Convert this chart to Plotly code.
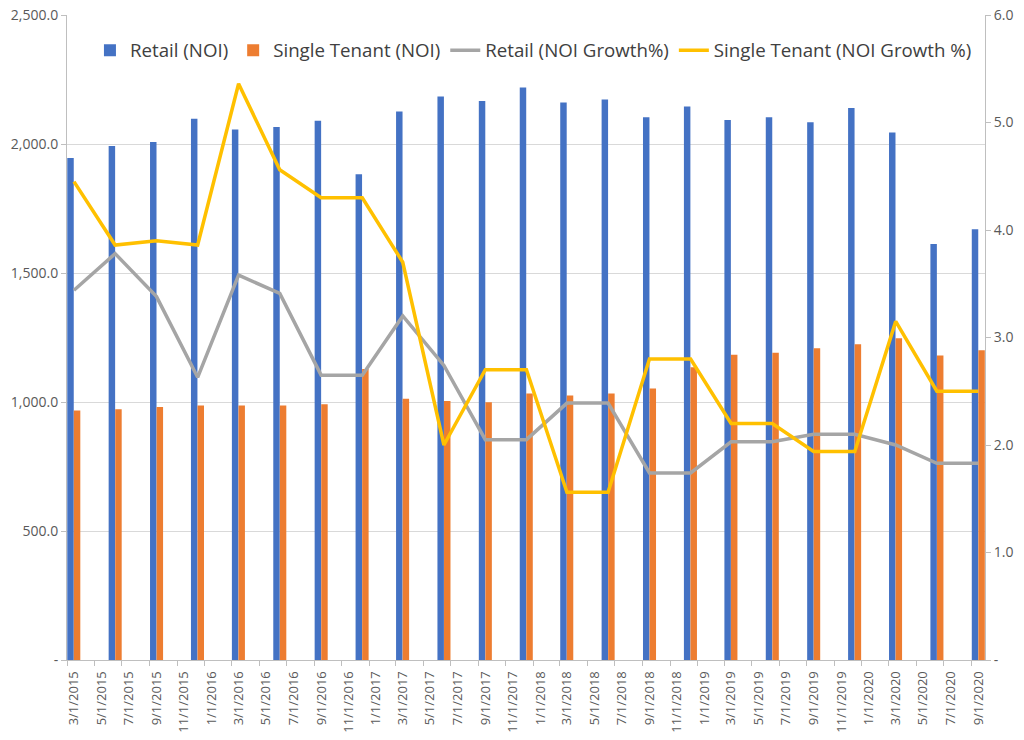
import pandas as pd
import plotly.graph_objects as go

# quarterly data points
dates = [
    "2015-03-01", "2015-06-01", "2015-09-01", "2015-12-01",
    "2016-03-01", "2016-06-01", "2016-09-01", "2016-12-01",
    "2017-03-01", "2017-06-01", "2017-09-01", "2017-12-01",
    "2018-03-01", "2018-06-01", "2018-09-01", "2018-12-01",
    "2019-03-01", "2019-06-01", "2019-09-01", "2019-12-01",
    "2020-03-01", "2020-06-01", "2020-09-01",
]

retail_noi = [
    1946, 1992, 2008, 2098, 2056, 2066, 2090, 1883,
    2126, 2184, 2167, 2219, 2161, 2172, 2104, 2145,
    2093, 2104, 2084, 2140, 2045, 1612, 1670,
]
single_tenant_noi = [
    967, 972, 981, 986, 986, 986, 991, 1128,
    1013, 1004, 999, 1033, 1025, 1033, 1052, 1135,
    1183, 1191, 1208, 1224, 1247, 1180, 1201,
]
retail_growth = [
    3.44, 3.78, 3.38, 2.63, 3.58, 3.41, 2.65, 2.65,
    3.20, 2.74, 2.05, 2.05, 2.39, 2.39, 1.74, 1.74,
    2.03, 2.03, 2.10, 2.10, 2.00, 1.83, 1.83,
]
single_tenant_growth = [
    4.45, 3.86, 3.90, 3.86, 5.36, 4.56, 4.30, 4.30,
    3.70, 2.00, 2.70, 2.70, 1.56, 1.56, 2.80, 2.80,
    2.20, 2.20, 1.94, 1.94, 3.15, 2.50, 2.50,
]

# x tick labels (every two months)
tick_labels = [
    "3/1/2015", "5/1/2015", "7/1/2015", "9/1/2015", "11/1/2015",
    "1/1/2016", "3/1/2016", "5/1/2016", "7/1/2016", "9/1/2016", "11/1/2016",
    "1/1/2017", "3/1/2017", "5/1/2017", "7/1/2017", "9/1/2017", "11/1/2017",
    "1/1/2018", "3/1/2018", "5/1/2018", "7/1/2018", "9/1/2018", "11/1/2018",
    "1/1/2019", "3/1/2019", "5/1/2019", "7/1/2019", "9/1/2019", "11/1/2019",
    "1/1/2020", "3/1/2020", "5/1/2020", "7/1/2020", "9/1/2020",
]

left_ticks = [0, 500, 1000, 1500, 2000, 2500]
left_labels = ["-", "500.0", "1,000.0", "1,500.0", "2,000.0", "2,500.0"]
right_ticks = [0, 1, 2, 3, 4, 5, 6]
right_labels = ["-", "1.0", "2.0", "3.0", "4.0", "5.0", "6.0"]

DAY = 86400000
font_name = "Open Sans"
tick_color = "#595959"
axis_color = "#BFBFBF"

x_dates = pd.to_datetime(dates)
tick_dates = pd.to_datetime(tick_labels, format="%m/%d/%Y")

fig = go.Figure()

fig.add_trace(go.Bar(
    x=x_dates, y=retail_noi, name="Retail (NOI)",
    marker=dict(color="#4472C4", line=dict(width=0)),
    offset=0.6 * DAY, width=14.4 * DAY,
))
fig.add_trace(go.Bar(
    x=x_dates, y=single_tenant_noi, name="Single Tenant (NOI)",
    marker=dict(color="#ED7D31", line=dict(width=0)),
    offset=15.2 * DAY, width=14.4 * DAY,
))
fig.add_trace(go.Scatter(
    x=x_dates, y=retail_growth, name="Retail (NOI Growth%)",
    mode="lines", line=dict(color="#A5A5A5", width=3.5),
    xperiod="M1", xperiodalignment="middle", yaxis="y2",
))
fig.add_trace(go.Scatter(
    x=x_dates, y=single_tenant_growth, name="Single Tenant (NOI Growth %)",
    mode="lines", line=dict(color="#FFC000", width=3.5),
    xperiod="M1", xperiodalignment="middle", yaxis="y2",
))

fig.update_layout(
    width=1024, height=740,
    margin=dict(l=67, r=39, t=15, b=80),
    paper_bgcolor="white", plot_bgcolor="white",
    font=dict(family=font_name, size=13, color=tick_color),
    barmode="overlay",
    showlegend=True,
    legend=dict(
        orientation="h", x=0.025, y=0.945, xanchor="left", yanchor="middle",
        bgcolor="rgba(0,0,0,0)", font=dict(size=18.7, color="#404040"),
        itemwidth=30, tracegroupgap=0,
    ),
    xaxis=dict(
        type="date", automargin=False,
        range=["2015-03-01", "2020-10-01"],
        tickmode="array", tickvals=tick_dates, ticktext=tick_labels,
        tickangle=-90, ticklabelshift=7,
        ticks="outside", ticklen=5, tickcolor=axis_color,
        showline=True, linecolor=axis_color, linewidth=1,
        showgrid=False, zeroline=False,
    ),
    yaxis=dict(
        range=[0, 2500], automargin=False,
        tickmode="array", tickvals=left_ticks, ticktext=left_labels,
        tickfont=dict(size=14),
        ticks="outside", ticklen=5, tickcolor=axis_color,
        showline=True, linecolor=axis_color, linewidth=1,
        showgrid=True, gridcolor="#D9D9D9", gridwidth=1,
        zeroline=False,
    ),
    yaxis2=dict(
        range=[0, 6], overlaying="y", side="right", automargin=False,
        tickmode="array", tickvals=right_ticks, ticktext=right_labels,
        tickfont=dict(size=14),
        ticks="outside", ticklen=5, tickcolor=axis_color,
        showline=True, linecolor=axis_color, linewidth=1,
        showgrid=False, zeroline=False,
    ),
)

# remove the default page margin so the chart sits at the window corner
fig.write_html(
    "out.html",
    config={"displayModeBar": False},
    post_script="document.body.style.margin='0';",
)
